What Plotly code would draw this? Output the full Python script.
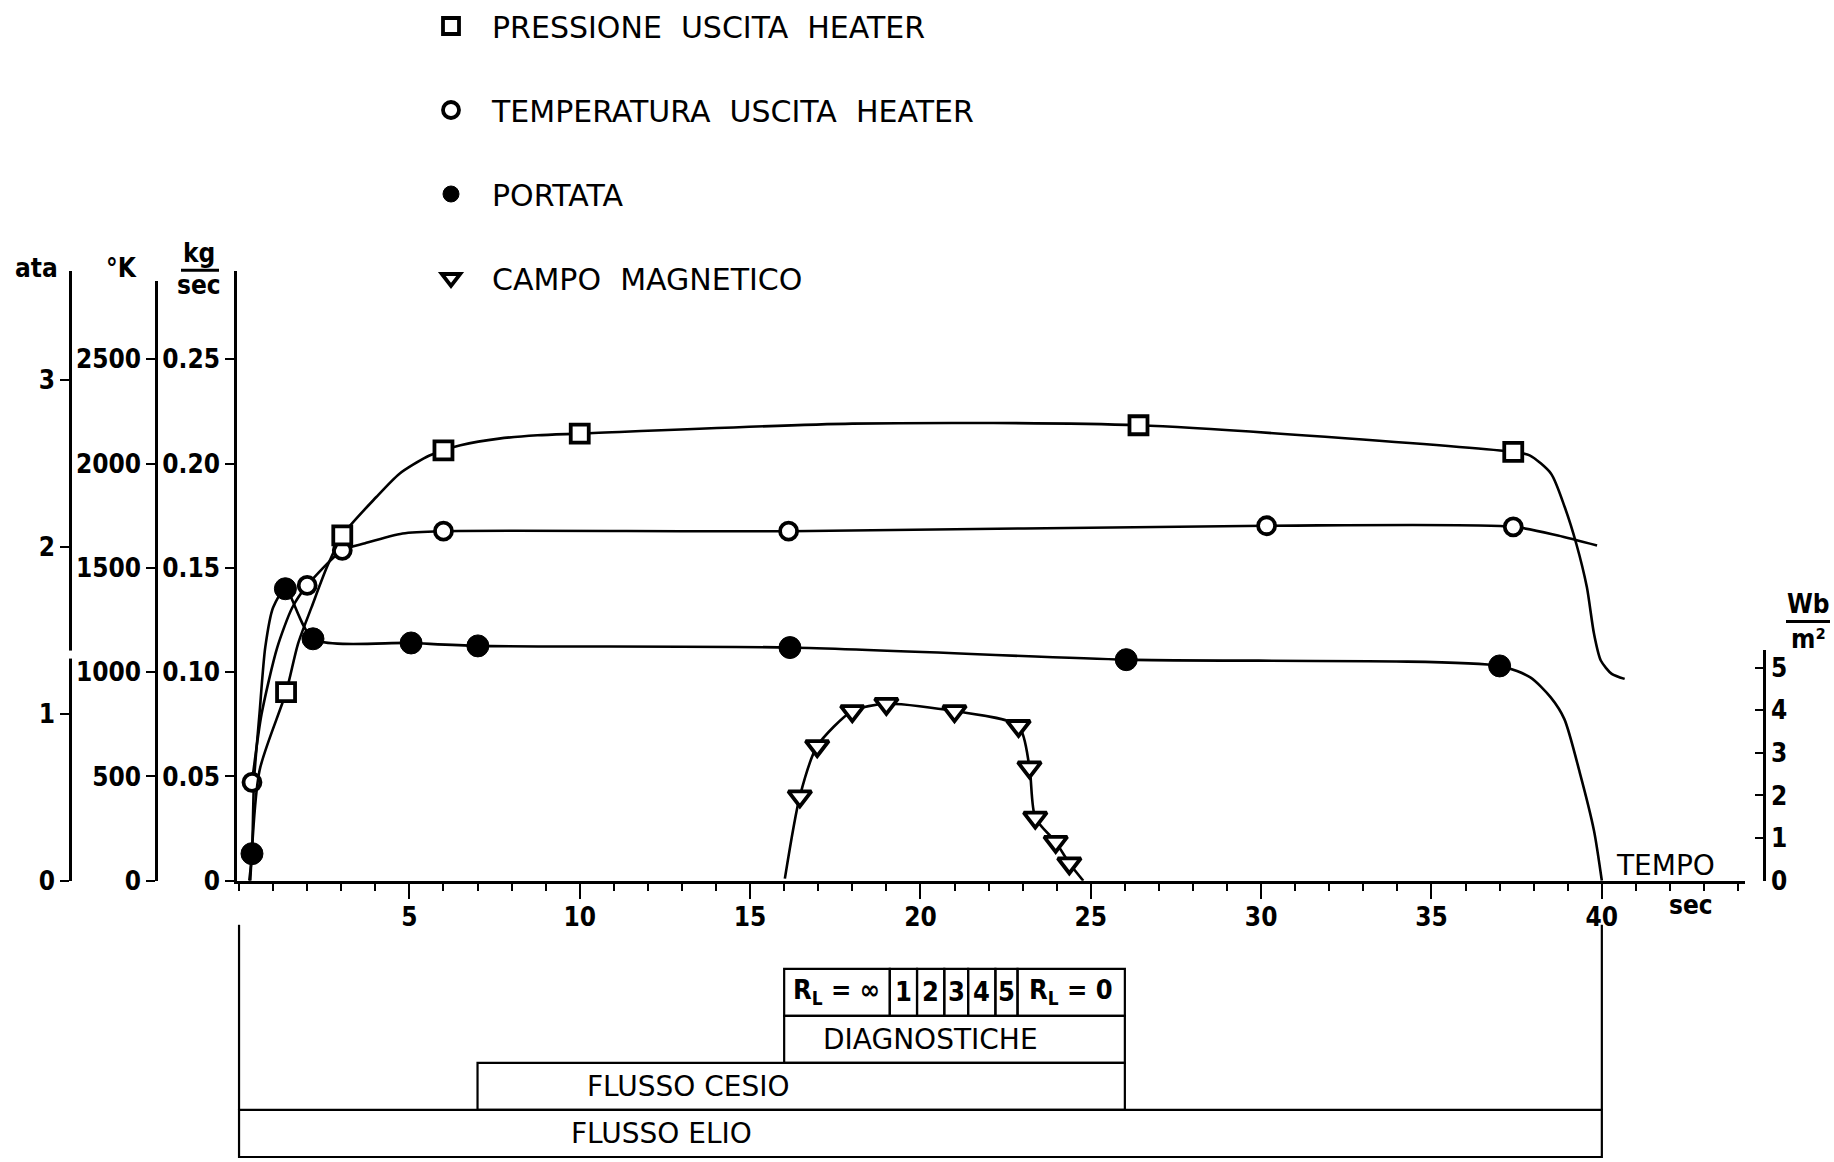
import plotly.graph_objects as go

# ---------------- data ----------------
# Pressione uscita heater (ata)
pres_t = [1.38, 3.03, 6.0, 10.0, 26.4, 37.4]
pres_ata = [1.13, 2.07, 2.58, 2.68, 2.73, 2.57]
pres_curve_t = [0.33, 0.6, 1.38, 1.73, 2.13, 2.58, 3.03, 4.03, 4.71, 5.5, 6.0, 6.5, 7.63, 8.76, 10.0,
                18.0, 26.4, 37.4, 37.88, 38.51, 38.91, 39.25, 39.56, 39.77, 39.97, 40.29, 40.67]
pres_curve_ata = [0.0, 0.66, 1.13, 1.42, 1.64, 1.88, 2.07, 2.30, 2.44, 2.54, 2.58, 2.61, 2.65, 2.67, 2.68,
                  2.74, 2.73, 2.57, 2.55, 2.44, 2.24, 2.02, 1.76, 1.48, 1.32, 1.24, 1.21]

# Temperatura uscita heater (K)
temp_t = [0.38, 2.0, 3.03, 6.0, 16.13, 30.16, 37.4]
temp_K = [472, 1416, 1584, 1676, 1676, 1702, 1697]
temp_curve_t = [0.38, 0.66, 1.12, 1.56, 2.0, 3.03, 3.7, 4.8, 6.0, 16.13, 30.16, 37.4, 38.71, 39.86]
temp_curve_K = [472, 798, 1118, 1309, 1416, 1584, 1618, 1665, 1676, 1676, 1702, 1697, 1655, 1607]

# Portata (kg/sec)
flow_t = [0.38, 1.36, 2.17, 5.05, 7.01, 16.17, 26.04, 37.0]
flow_kgs = [0.013, 0.140, 0.116, 0.114, 0.1126, 0.1118, 0.106, 0.103]
flow_curve_t = [0.3, 0.38, 0.44, 0.6, 0.77, 1.0, 1.36, 2.17, 5.05, 7.01, 16.17, 26.04, 37.0,
                37.9, 38.5, 38.9, 39.35, 39.77, 40.0]
flow_curve_kgs = [0.0, 0.013, 0.048, 0.080, 0.112, 0.131, 0.140, 0.116, 0.114, 0.1126, 0.1118, 0.106, 0.103,
                  0.0975, 0.0879, 0.0775, 0.052, 0.024, 0.0]

# Campo magnetico (Wb/m2)
field_t = [16.46, 16.97, 18.0, 19.0, 21.0, 22.88, 23.2, 23.37, 23.97, 24.37]
field_wb = [1.98, 3.16, 3.98, 4.15, 3.98, 3.63, 2.66, 1.48, 0.91, 0.41]
field_curve_t = [16.02, 16.46, 16.97, 18.0, 19.0, 21.0, 22.88, 23.2, 23.37, 23.97, 24.37, 24.78]
field_curve_wb = [0.05, 1.98, 3.16, 3.98, 4.15, 3.98, 3.63, 2.66, 1.48, 0.91, 0.41, 0.0]

series_names = ["PRESSIONE  USCITA  HEATER", "TEMPERATURA  USCITA  HEATER", "PORTATA", "CAMPO  MAGNETICO"]

# ticks
x_ticks = [5, 10, 15, 20, 25, 30, 35, 40]
ata_ticks = [0, 1, 2, 3]
K_ticks = [0, 500, 1000, 1500, 2000, 2500]
kgs_ticks = [0, 0.05, 0.10, 0.15, 0.20, 0.25]
kgs_ticktext = ["0", "0.05", "0.10", "0.15", "0.20", "0.25"]
wb_ticks = [0, 1, 2, 3, 4, 5]

# test phases (sec)
phase_labels = ["FLUSSO ELIO", "FLUSSO CESIO", "DIAGNOSTICHE"]
phase_start = [0.0, 7.0, 16.0]
phase_end = [40.0, 26.0, 26.0]
rl_labels = ["R<sub>L</sub> = ∞", "1", "2", "3", "4", "5", "R<sub>L</sub> = 0"]
rl_edges = [16.0, 19.1, 19.9, 20.7, 21.4, 22.2, 22.85, 26.0]

# ---------------- layout helpers ----------------
W, H = 1834, 1162
FIG_H = 1178
def PX(v):
    return v / W
def PY(v):
    return 1 - v / H

BLK = "black"
LW = 2.6
TICKFONT = dict(family="DejaVu Sans Condensed", size=26, color=BLK, weight="bold")
TXTFONT = dict(family="DejaVu Sans", size=28, color=BLK)

fig = go.Figure()

line_style = dict(color=BLK, width=LW, shape="spline", smoothing=0.7)

# curves
fig.add_trace(go.Scatter(x=pres_curve_t, y=pres_curve_ata, mode="lines", line=line_style,
                         yaxis="y3", showlegend=False, hoverinfo="skip", cliponaxis=False))
fig.add_trace(go.Scatter(x=temp_curve_t, y=temp_curve_K, mode="lines", line=line_style,
                         yaxis="y2", showlegend=False, hoverinfo="skip", cliponaxis=False))
fig.add_trace(go.Scatter(x=flow_curve_t, y=flow_curve_kgs, mode="lines", line=line_style,
                         yaxis="y", showlegend=False, hoverinfo="skip", cliponaxis=False))
fig.add_trace(go.Scatter(x=field_curve_t, y=field_curve_wb, mode="lines", line=line_style,
                         yaxis="y4", showlegend=False, hoverinfo="skip", cliponaxis=False))

# markers (also legend entries)
fig.add_trace(go.Scatter(x=pres_t, y=pres_ata, mode="markers", name=series_names[0], yaxis="y3",
                         legendgroup="a", cliponaxis=False,
                         marker=dict(symbol="square", size=18, color="white", line=dict(color=BLK, width=3.8))))
fig.add_trace(go.Scatter(x=temp_t, y=temp_K, mode="markers", name=series_names[1], yaxis="y2",
                         legendgroup="b", cliponaxis=False,
                         marker=dict(symbol="circle", size=17, color="white", line=dict(color=BLK, width=3.8))))
fig.add_trace(go.Scatter(x=flow_t, y=flow_kgs, mode="markers", name=series_names[2], yaxis="y",
                         legendgroup="c", cliponaxis=False,
                         marker=dict(symbol="circle", size=22, color=BLK, line=dict(color=BLK, width=1))))
fig.add_trace(go.Scatter(x=field_t, y=field_wb, mode="markers", name=series_names[3], yaxis="y4",
                         legendgroup="d", cliponaxis=False,
                         marker=dict(symbol="triangle-down", size=20, color="white", line=dict(color=BLK, width=3.8))))

x0_px, x1_px = 237, 1745
sec_px = 34.07
xr0 = -0.06
xr1 = xr0 + (x1_px - x0_px) / sec_px
ybot = 880

shapes = []
annotations = []

# timeline phases
row_y = {  # (top, bottom) pixel rows
    "FLUSSO ELIO": (1109, 1156),
    "FLUSSO CESIO": (1062, 1109),
    "DIAGNOSTICHE": (1015, 1062),
}
label_t = {"FLUSSO ELIO": 12.4, "FLUSSO CESIO": 13.2, "DIAGNOSTICHE": 20.3}
for lab, s, e in zip(phase_labels, phase_start, phase_end):
    top, bot = row_y[lab]
    shapes.append(dict(type="rect", xref="x", yref="paper", x0=s, x1=e, y0=PY(bot), y1=PY(top),
                       line=dict(color=BLK, width=2.2), fillcolor="rgba(0,0,0,0)"))
    annotations.append(dict(xref="x", yref="paper", x=label_t[lab], y=PY((top + bot) / 2), text=lab,
                            showarrow=False, font=TXTFONT, xanchor="center", yanchor="middle"))
# helium flow markers at start/end
for t in (phase_start[0], phase_end[0]):
    shapes.append(dict(type="line", xref="x", yref="paper", x0=t, x1=t, y0=PY(1109), y1=PY(924),
                       line=dict(color=BLK, width=2.2)))
# R_L cells
for i, lab in enumerate(rl_labels):
    a, b = rl_edges[i], rl_edges[i + 1]
    shapes.append(dict(type="rect", xref="x", yref="paper", x0=a, x1=b, y0=PY(1015), y1=PY(968),
                       line=dict(color=BLK, width=2.2), fillcolor="rgba(0,0,0,0)"))
    annotations.append(dict(xref="x", yref="paper", x=(a + b) / 2, y=PY(991), text=lab, showarrow=False,
                            font=dict(family="DejaVu Sans Condensed", size=27, color=BLK, weight="bold"),
                            xanchor="center", yanchor="middle"))

# axis titles
bold = dict(family="DejaVu Sans Condensed", size=26, color=BLK, weight="bold")
for txt, x, y in [("ata", 36, 268), ("°K", 121, 268), ("kg", 199, 253), ("sec", 199, 285),
                  ("Wb", 1808, 603), ("m²", 1808, 638), ("sec", 1691, 904)]:
    annotations.append(dict(xref="paper", yref="paper", x=PX(x), y=PY(y), text=txt, showarrow=False,
                            font=bold, xanchor="center", yanchor="middle"))
annotations.append(dict(xref="paper", yref="paper", x=PX(1665), y=PY(865), text="TEMPO", showarrow=False,
                        font=TXTFONT, xanchor="center", yanchor="middle"))
shapes.append(dict(type="line", xref="paper", yref="paper", x0=PX(181), x1=PX(219), y0=PY(270), y1=PY(270),
                   line=dict(color=BLK, width=3)))
shapes.append(dict(type="line", xref="paper", yref="paper", x0=PX(1786), x1=PX(1830), y0=PY(621), y1=PY(621),
                   line=dict(color=BLK, width=3)))
# small break in the ata axis line (as in the original drawing)
shapes.append(dict(type="rect", xref="paper", yref="paper", x0=PX(66), x1=PX(74), y0=PY(658), y1=PY(650),
                   line=dict(width=0), fillcolor="white", layer="above"))

yax_common = dict(showgrid=False, zeroline=False, showline=True, linecolor=BLK, linewidth=LW,
                  ticks="outside", ticklen=9, tickwidth=2.4, tickcolor=BLK, tickfont=TICKFONT,
                  tickmode="array", fixedrange=True)

fig.update_layout(
    width=W, height=FIG_H, margin=dict(l=0, r=0, t=0, b=0),
    paper_bgcolor="white", plot_bgcolor="rgba(0,0,0,0)",
    showlegend=True,
    legend=dict(x=PX(410), y=PY(0), xanchor="left", yanchor="top", font=dict(family="DejaVu Sans", size=30, color=BLK),
                itemwidth=72, tracegroupgap=42, bgcolor="rgba(0,0,0,0)", traceorder="grouped",
                itemclick=False, itemdoubleclick=False),
    xaxis=dict(domain=[PX(x0_px), PX(x1_px)], range=[xr0, xr1], anchor="y", showgrid=False, zeroline=False,
               showline=True, linecolor=BLK, linewidth=LW, ticks="outside", ticklen=15, tickwidth=2.4,
               tickcolor=BLK, tickmode="array", tickvals=x_ticks, ticktext=[str(v) for v in x_ticks],
               tickfont=TICKFONT, ticklabelstandoff=-4, fixedrange=True,
               minor=dict(dtick=1, tick0=0, ticks="outside", ticklen=7, tickwidth=2, tickcolor=BLK, showgrid=False)),
    yaxis=dict(domain=[PY(ybot), PY(271)], range=[0, (ybot - 271) / 2084.0], anchor="x",
               tickvals=kgs_ticks, ticktext=kgs_ticktext, **yax_common),
    yaxis2=dict(domain=[PY(ybot), PY(281)], range=[0, (ybot - 281) / 0.2084], anchor="free", position=PX(156),
                tickvals=K_ticks, ticktext=[str(v) for v in K_ticks], **yax_common),
    yaxis3=dict(domain=[PY(ybot), PY(271)], range=[0, (ybot - 271) / 166.7], anchor="free", position=PX(70),
                tickvals=ata_ticks, ticktext=[str(v) for v in ata_ticks], **yax_common),
    yaxis4=dict(domain=[PY(ybot), PY(649)], range=[0, (ybot - 649) / 42.6], anchor="free", position=PX(1764),
                side="right", tickvals=wb_ticks, ticktext=[str(v) for v in wb_ticks],
                **{**yax_common, "ticks": "inside", "ticklen": 8}),
    shapes=shapes, annotations=annotations,
)

fig.write_html("out.html", include_plotlyjs=True, config={"displayModeBar": False},
               post_script="document.body.style.margin='0';document.body.style.overflow='hidden';"
                           "document.documentElement.style.overflow='hidden';")
